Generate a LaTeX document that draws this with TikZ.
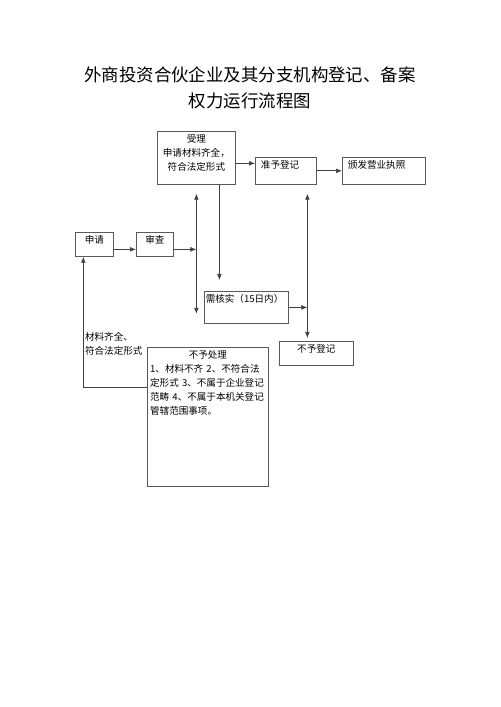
\documentclass[tikz,border=0pt]{standalone}
\usepackage{fontspec}
\setmainfont{Noto Sans CJK SC}
\usetikzlibrary{arrows.meta,calc}

\begin{document}
\begin{tikzpicture}[x=0.025cm,y=-0.025cm,
 bx/.style={draw=black!65,line width=0.5pt,anchor=north west,inner xsep=2pt,inner ysep=2pt,
   text height=5.6pt,font=\fontsize{6.8}{10}\selectfont},
 ar/.style={-{Latex[length=1.5mm,width=1.2mm]},draw=black!75,line width=0.5pt},
 dar/.style={{Latex[length=1.5mm,width=1.2mm]}-{Latex[length=1.5mm,width=1.2mm]},draw=black!75,line width=0.5pt}]
\useasboundingbox (0,0) rectangle (500,707);
\node[font=\fontsize{12.4}{18.5}\selectfont,align=center] (tt) at (250,88) {外商投资合伙企业及其分支机构登记、备案\\权力运行流程图};
% boxes
\node[bx,text width=51.5pt,text depth=28.1pt,align=center] (sl) at (157,131) {受理\\申请材料齐全，\\符合法定形式};
\node[bx,inner xsep=4pt,text width=35.4pt,text depth=9.6pt,align=left] (zy) at (255,157) {准予登记};
\node[bx,inner xsep=4pt,text width=51pt,text depth=9.6pt,align=left] (bf) at (342,157) {颁发营业执照};
\node[bx,text width=23pt,text depth=7.5pt,align=center] (sq) at (75,232) {申请};
\node[bx,text width=22.3pt,text depth=7.5pt,align=center] (sc) at (136,232) {审查};
\node[bx,inner xsep=1pt,text width=57.75pt,text depth=13.2pt,align=left] (hs) at (204,291) {需核实（15日内）};
\node[bx,text width=48.6pt,text depth=7.5pt,align=center] (by) at (279,341) {不予登记};
\node[bx,text width=82.1pt,text depth=89.3pt,align=left] (bc) at (147,347)
 {\makebox[\linewidth]{不予处理}\\1、材料不齐 2、不符合法\\定形式 3、不属于企业登记\\范畴 4、不属于本机关登记\\管辖范围事项。};
% connectors
\coordinate (vt) at ([yshift=-0.225cm]sl.south);
\coordinate (vb) at ([yshift=0.25cm]vt |- hs.south);
\coordinate (rt) at ([xshift=0.5375cm,yshift=-0.225cm]zy.south);
\coordinate (rb) at ([yshift=0.075cm]rt |- by.north);
\draw[ar] ([yshift=-0.1375cm]sl.east) -- ([yshift=-0.1375cm]sl.east -| zy.west);
\draw[ar] (zy) -- (bf);
\draw[ar] ([yshift=-0.125cm]sq.east) -- ([yshift=-0.125cm]sc.west);
\draw[ar] ([yshift=-0.125cm]sc.east) -- ([yshift=-0.125cm]sc.east -| vt);
\draw[dar] (vt) -- (vb);
\draw[ar] ([xshift=0.575cm]sl.south) -- ([xshift=0.575cm,yshift=0.275cm]sl.south |- hs.north);
\draw[dar] (rt) -- (rb);
\draw[ar] (hs.east) -- (hs.east -| rt);
\draw[ar] ([yshift=0.7375cm]bc.west) -| node[pos=0.668,right,align=left,inner sep=1pt,font=\fontsize{6.8}{10}\selectfont] (lq) {材料齐全、\\符合法定形式} ([xshift=-0.275cm]sq.south);
\end{tikzpicture}
\end{document}
